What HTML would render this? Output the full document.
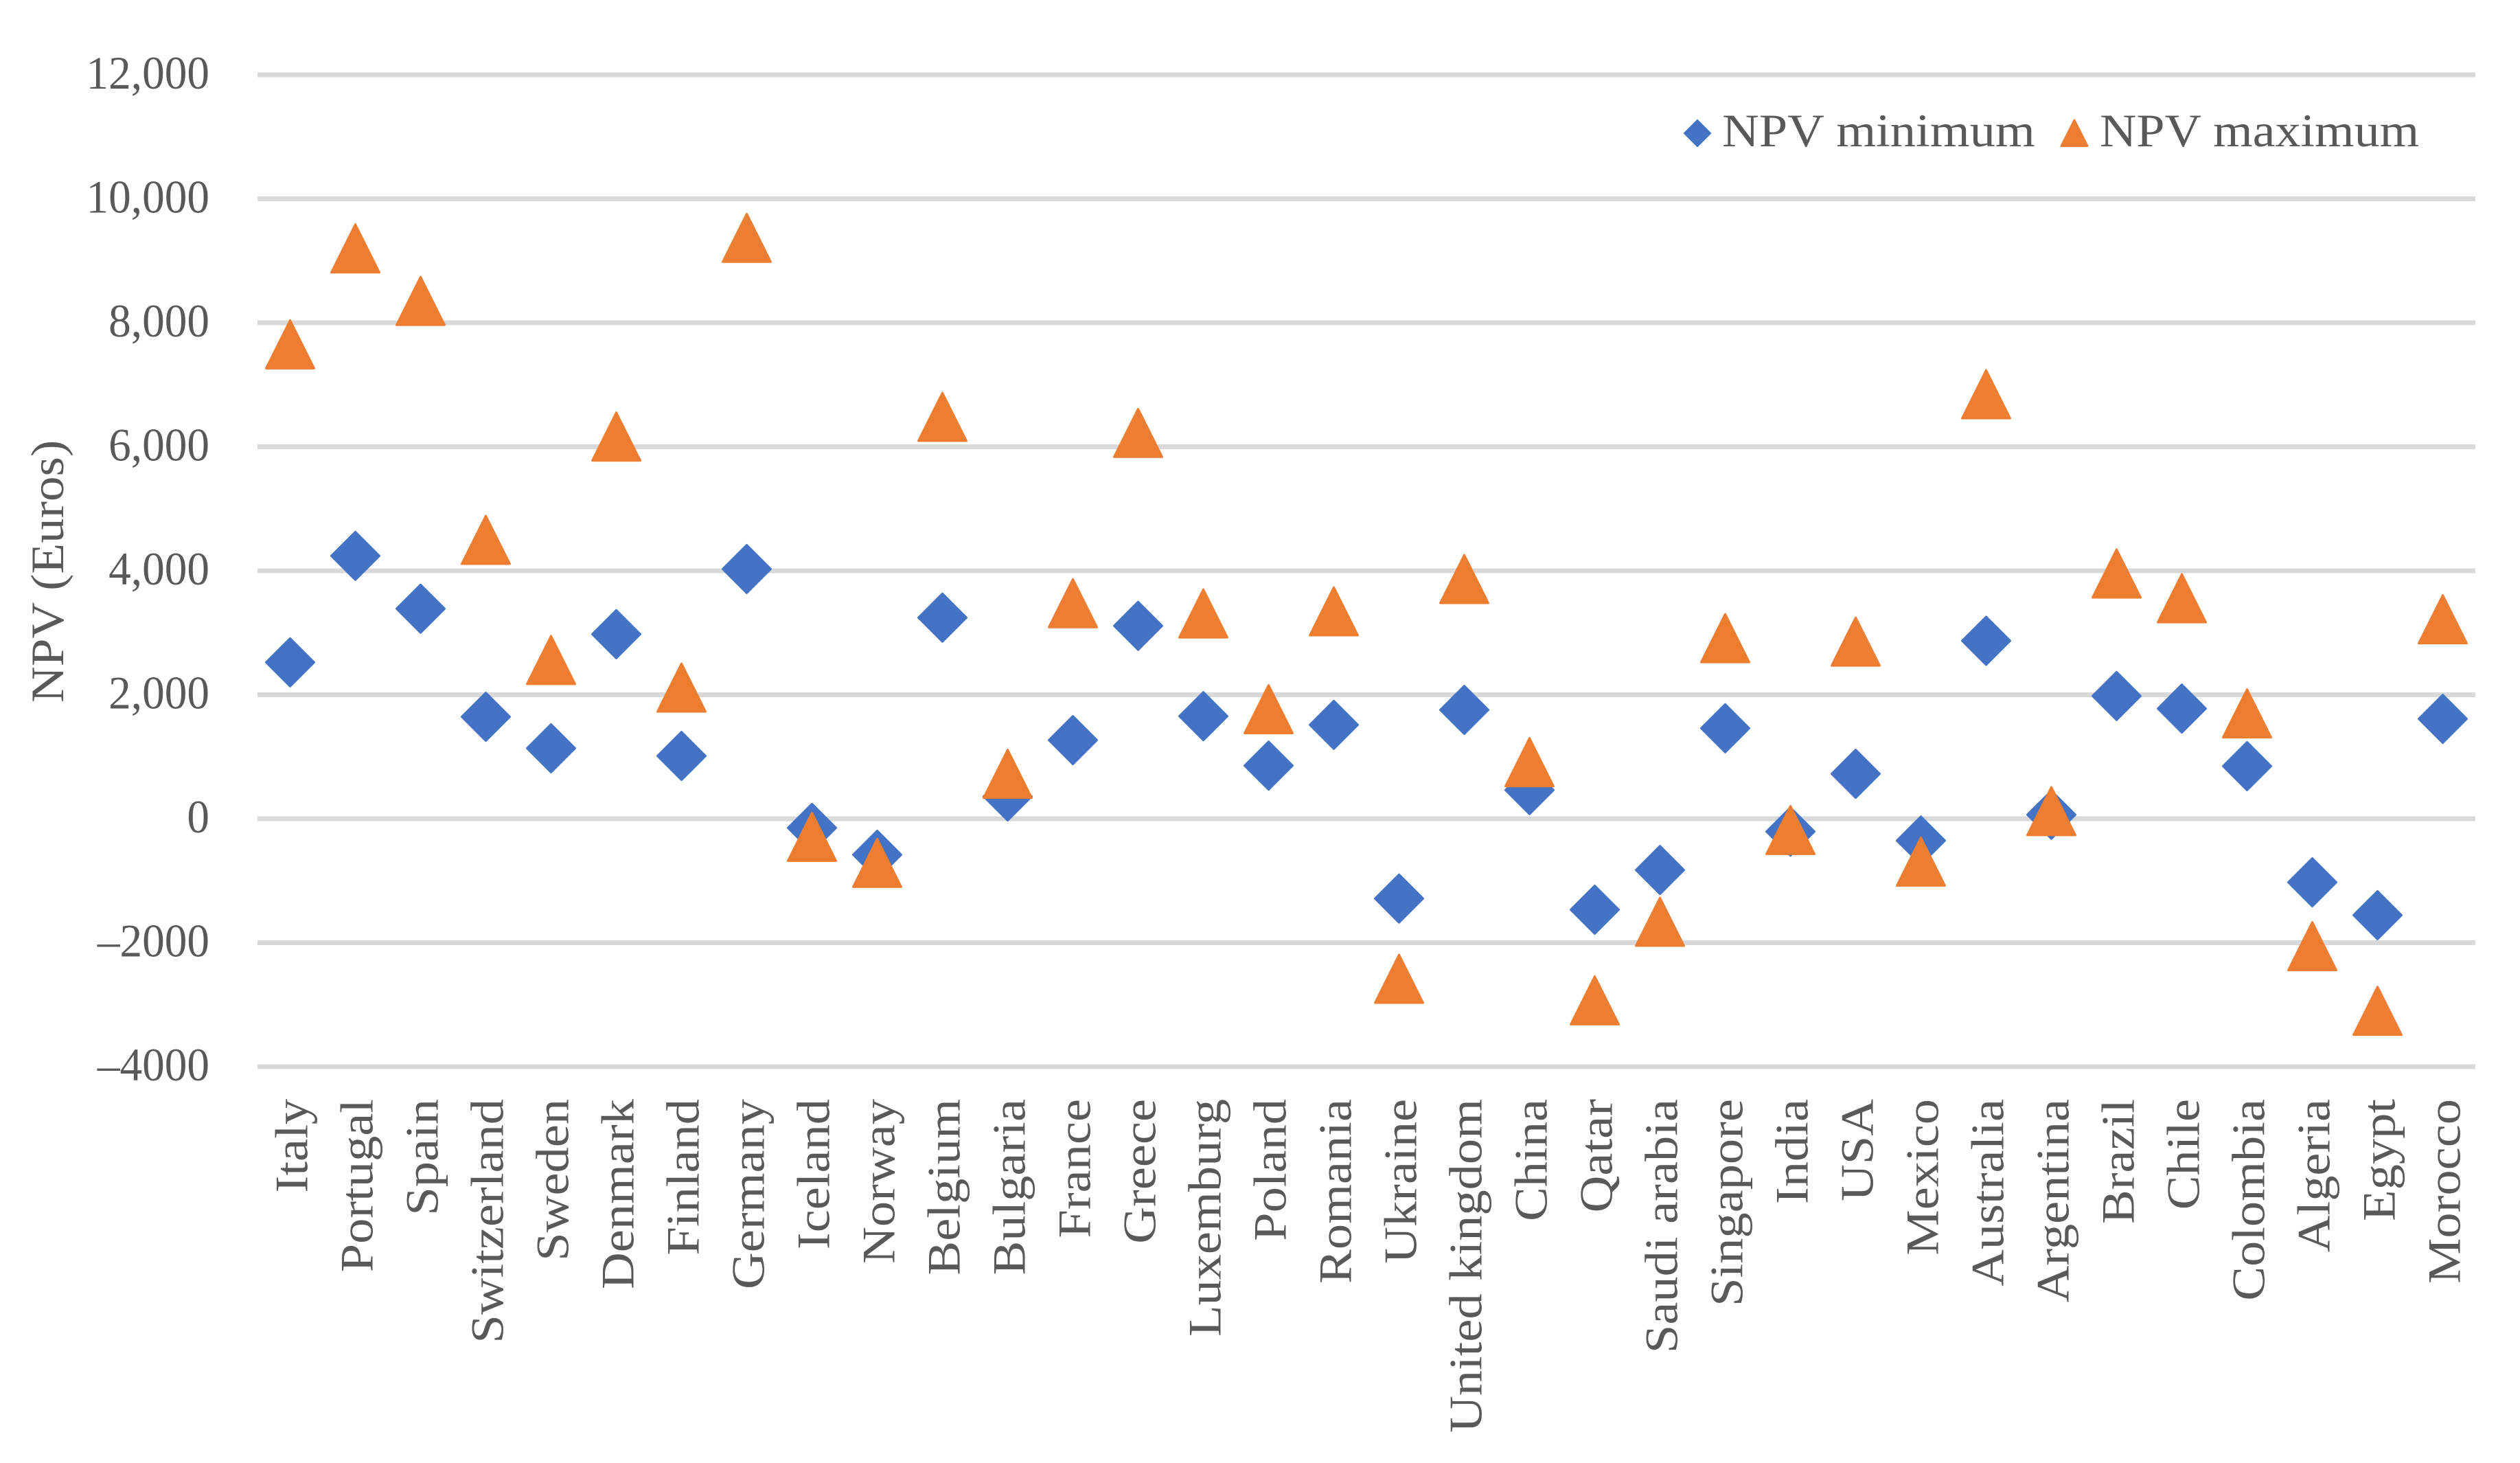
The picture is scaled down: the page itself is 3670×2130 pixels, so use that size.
<!DOCTYPE html>
<html lang="en">
<head>
<meta charset="utf-8">
<title>NPV minimum and maximum by country</title>
<style>
html, body { margin: 0; padding: 0; background: #ffffff; }
svg { display: block; }
text { font-family: "Liberation Serif", serif; font-size: 68px; fill: #595959; }
</style>
</head>
<body>
<svg id="chart" xmlns="http://www.w3.org/2000/svg" width="3670" height="2130" viewBox="0 0 3670 2130">
  <rect x="0" y="0" width="3670" height="2130" fill="#ffffff"/>
  <g id="grid"></g>
  <g id="yticks"></g>
  <g id="xticks"></g>
  <text transform="translate(92,1023) rotate(-90) scale(1.075,1)">NPV (Euros)</text>
  <g id="series-min"></g>
  <g id="series-max"></g>
  <g>
    <g>
      <polygon points="2472,175.5 2490.5,194 2472,212.5 2453.5,194" fill="#4472C4" stroke="#4472C4" stroke-width="3" stroke-linejoin="round"/>
      <text transform="translate(2508,213) scale(1.095,1)">NPV minimum</text>
    </g>
    <g>
      <polygon points="3021,175 3040,212.5 3002,212.5" fill="#ED7D31" stroke="#ED7D31" stroke-width="3" stroke-linejoin="round"/>
      <text transform="translate(3058,213) scale(1.088,1)">NPV maximum</text>
    </g>
  </g>
</svg>
<script>
const categories = ["Italy","Portugal","Spain","Switzerland","Sweden","Denmark","Finland","Germany","Iceland","Norway","Belgium","Bulgaria","France","Greece","Luxemburg","Poland","Romania","Ukraine","United kingdom","China","Qatar","Saudi arabia","Singapore","India","USA","Mexico","Australia","Argentina","Brazil","Chile","Colombia","Algeria","Egypt","Morocco"];
const npvMinimum = [2523,4240,3388,1645,1136,2977,1013,4028,-148,-581,3244,360,1268,3112,1654,857,1514,-1288,1756,462,-1467,-827,1459,-207,725,-352,2871,64,1980,1777,848,-1026,-1556,1611];
const npvMaximum = [7653,9201,8353,4499,2561,6165,2116,9371,-292,-712,6483,725,3477,6224,3312,1768,3346,-2582,3867,912,-2930,-1662,2913,-182,2858,-691,6848,123,3956,3557,1700,-2056,-3099,3218];
const tickValues = [12000,10000,8000,6000,4000,2000,0,-2000,-4000];
const tickLabels = ["12,000","10,000","8,000","6,000","4,000","2,000","0","\u20132000","\u20134000"];

const NS = "http://www.w3.org/2000/svg";
const plotLeft = 375, plotRight = 3605, plotTop = 109, plotBottom = 1553;
const axisMin = -4000, axisMax = 12000;

function yScale(v) {
  return plotBottom - (v - axisMin) / (axisMax - axisMin) * (plotBottom - plotTop);
}
function xScale(i) {
  const band = (plotRight - plotLeft) / categories.length;
  return plotLeft + band * (i + 0.5);
}
function make(tag, parent) {
  const el = document.createElementNS(NS, tag);
  parent.appendChild(el);
  return el;
}

const gridG = document.getElementById("grid");
const yG = document.getElementById("yticks");
const xG = document.getElementById("xticks");
const minG = document.getElementById("series-min");
const maxG = document.getElementById("series-max");

tickValues.forEach(function (v, i) {
  const y = yScale(v);
  const line = make("rect", gridG);
  
  
  line.setAttribute("x", plotLeft);
  line.setAttribute("y", y - 3.5);
  line.setAttribute("width", plotRight - plotLeft);
  line.setAttribute("height", 7);
  line.setAttribute("fill", "#D9D9D9");

  const label = make("text", yG);
  
  
  label.setAttribute("text-anchor", "end");
  label.setAttribute("transform", "translate(305," + (y + 20) + ") scale(0.96,1)");
  label.textContent = tickLabels[i];
});

categories.forEach(function (name, i) {
  const cx = xScale(i);

  const label = make("text", xG);
  
  
  label.setAttribute("text-anchor", "end");
  label.setAttribute("transform", "translate(" + (cx + 25) + ",1600) rotate(-90) scale(1.095,1)");
  label.textContent = name;

  const d = make("polygon", minG);
  
  
  const dy = yScale(npvMinimum[i]);
  d.setAttribute("points", cx + "," + (dy - 35) + " " + (cx + 35) + "," + dy + " " + cx + "," + (dy + 35) + " " + (cx - 35) + "," + dy);
  d.setAttribute("fill", "#4472C4");
  d.setAttribute("stroke", "#4472C4");
  d.setAttribute("stroke-width", "3");
  d.setAttribute("stroke-linejoin", "round");

  const t = make("polygon", maxG);
  
  
  const ty = yScale(npvMaximum[i]);
  t.setAttribute("points", cx + "," + (ty - 35) + " " + (cx + 35) + "," + (ty + 35) + " " + (cx - 35) + "," + (ty + 35));
  t.setAttribute("fill", "#ED7D31");
  t.setAttribute("stroke", "#ED7D31");
  t.setAttribute("stroke-width", "3");
  t.setAttribute("stroke-linejoin", "round");
});
</script>
</body>
</html>
